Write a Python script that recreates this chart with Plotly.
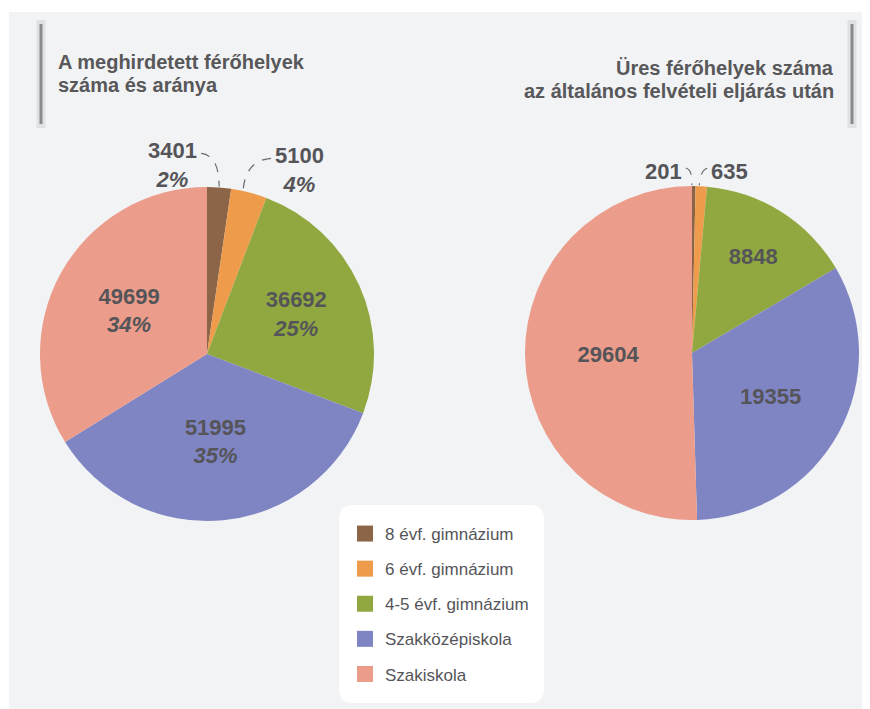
import math
import plotly.graph_objects as go

# data
categories = ["8 évf. gimnázium", "6 évf. gimnázium", "4-5 évf. gimnázium",
              "Szakközépiskola", "Szakiskola"]
colors = ["#8c6548", "#ee9c4b", "#90a83f", "#7f84c3", "#eb9c8a"]
offered = [3401, 5100, 36692, 51995, 49699]
offered_pct = ["2%", "4%", "25%", "35%", "34%"]
empty = [201, 635, 8848, 19355, 29604]

# page has an 8px body margin, so work in screenshot pixels and shift
OFF = 8
W, H = 862, 701
R = 167
LEFT_C = (207, 354)
RIGHT_C = (692, 353)
TXT = "#555559"


def px(x, y):
    return (x - OFF) / W, 1 - (y - OFF) / H


def dom(c):
    x0, y0 = px(c[0] - R, c[1] + R)
    x1, y1 = px(c[0] + R, c[1] - R)
    return dict(x=[x0, x1], y=[y0, y1])


def edge(values, i, c):
    # point on the rim at the middle of slice i (screenshot pixels)
    tot = sum(values)
    frac = (sum(values[:i]) + values[i] / 2) / tot
    a = 2 * math.pi * frac
    return c[0] + R * math.sin(a), c[1] - R * math.cos(a)


left_text = [f"{v}<br><i>{p}</i>" for v, p in zip(offered, offered_pct)]
right_text = [f"{v}" for v in empty]
pos = ["none", "none", "inside", "inside", "inside"]
lab_font = dict(family="Liberation Sans", size=22, color=TXT, weight="bold")

fig = go.Figure()
fig.add_trace(go.Pie(labels=categories, values=offered, sort=False, direction="clockwise",
                     rotation=0, domain=dom(LEFT_C), marker=dict(colors=colors),
                     text=left_text, textinfo="text", textposition=pos,
                     insidetextorientation="horizontal", textfont=lab_font,
                     showlegend=False, hoverinfo="label+value"))
fig.add_trace(go.Pie(labels=categories, values=empty, sort=False, direction="clockwise",
                     rotation=0, domain=dom(RIGHT_C), marker=dict(colors=colors),
                     text=right_text, textinfo="text", textposition=pos,
                     insidetextorientation="horizontal", textfont=lab_font,
                     showlegend=False, hoverinfo="label+value"))

# legend entries
for i, (name, col) in enumerate(zip(categories, colors)):
    fig.add_trace(go.Scatter(x=[None], y=[None], mode="markers", name=name,
                             legendgroup=f"g{i}",
                             marker=dict(symbol="square", size=18, color=col)))


def path(points, cmd):
    return cmd.format(*[v for p in points for v in px(*p)])


# rounded white legend box
bx0, bx1, by0, by1, rr = 339, 544, 505, 703, 14
box = path([(bx0 + rr, by0), (bx1 - rr, by0), (bx1, by0), (bx1, by0 + rr),
            (bx1, by1 - rr), (bx1, by1), (bx1 - rr, by1), (bx0 + rr, by1),
            (bx0, by1), (bx0, by1 - rr), (bx0, by0 + rr), (bx0, by0), (bx0 + rr, by0)],
           "M {} {} L {} {} Q {} {} {} {} L {} {} Q {} {} {} {} L {} {} "
           "Q {} {} {} {} L {} {} Q {} {} {} {} Z")

shapes = [
    dict(type="rect", xref="paper", yref="paper", x0=px(9, 0)[0], x1=1, y0=0,
         y1=px(0, 12)[1], fillcolor="#f2f3f5", line_width=0, layer="below"),
    dict(type="path", xref="paper", yref="paper", path=box,
         fillcolor="white", line_width=0, layer="below"),
]
# title bars
for bx in (41, 852):
    shapes.append(dict(type="line", xref="paper", yref="paper",
                       x0=px(bx, 0)[0], x1=px(bx, 0)[0], y0=px(0, 20)[1], y1=px(0, 128)[1],
                       line=dict(color="rgba(0,0,0,0.07)", width=9)))
    shapes.append(dict(type="line", xref="paper", yref="paper",
                       x0=px(bx, 0)[0], x1=px(bx, 0)[0], y0=px(0, 24)[1], y1=px(0, 124)[1],
                       line=dict(color="#8a8a8a", width=3)))

title_font = dict(family="Liberation Sans", size=20, color="#58585a", weight="bold")
annotations = []
for txt, yy in [("A meghirdetett férőhelyek", 62), ("száma és aránya", 85)]:
    x, y = px(56, yy)
    annotations.append(dict(text=txt, xref="paper", yref="paper", x=x, y=y,
                            xanchor="left", yanchor="middle", showarrow=False,
                            font=title_font))
for txt, yy in [("Üres férőhelyek száma", 68), ("az általános felvételi eljárás után", 91)]:
    x, y = px(836, yy)
    annotations.append(dict(text=txt, xref="paper", yref="paper", x=x, y=y,
                            xanchor="right", yanchor="middle", showarrow=False,
                            font=title_font))

# small slices of the left pie
for i, (dx, anchor) in enumerate([(-20, "right"), (24, "left")]):
    ex, ey = edge(offered, i, LEFT_C)
    tx = ex + dx
    ax, ay = px(tx, ey - 22)
    annotations.append(dict(text=f"{offered[i]}<br><i>{offered_pct[i]}</i>",
                            xref="paper", yref="paper", x=ax, y=ay,
                            xanchor=anchor, yanchor="middle", align="center",
                            showarrow=False, font=lab_font))
    sx = tx + (2 if anchor == "right" else -2)
    sy = ey - 34
    ctl = (ex, sy + 2) if i == 0 else (ex - 4, sy + 2)
    end = (ex, ey - 1) if i == 0 else (ex - 6, ey - 1)
    shapes.append(dict(type="path", xref="paper", yref="paper",
                       path=path([(sx, sy), ctl, end], "M {} {} Q {} {} {} {}"),
                       line=dict(color="#6a6a6a", width=1.2, dash="dash")))
# small slices of the right pie
for i, (dx, anchor) in enumerate([(-10, "right"), (8, "left")]):
    ex, ey = edge(empty, i, RIGHT_C)
    tx = ex + dx
    ax, ay = px(tx, ey - 15)
    annotations.append(dict(text=f"{empty[i]}", xref="paper", yref="paper", x=ax, y=ay,
                            xanchor=anchor, yanchor="middle", showarrow=False,
                            font=lab_font))
    sx = tx + (2 if anchor == "right" else -2)
    sy = ey - 18
    shapes.append(dict(type="path", xref="paper", yref="paper",
                       path=path([(sx, sy), (ex - 1, sy + 2), (ex - 2, ey - 1)],
                                 "M {} {} Q {} {} {} {}"),
                       line=dict(color="#6a6a6a", width=1.2, dash="dash")))

lx, ly = px(345, 516)
fig.update_layout(
    width=W, height=H, margin=dict(l=0, r=0, t=0, b=0),
    paper_bgcolor="white", plot_bgcolor="rgba(0,0,0,0)",
    xaxis=dict(visible=False), yaxis=dict(visible=False),
    shapes=shapes, annotations=annotations,
    legend=dict(x=lx, y=ly, xanchor="left", yanchor="top",
                bgcolor="rgba(0,0,0,0)", tracegroupgap=10,
                font=dict(family="Liberation Sans", size=17, color="#555559")),
)

fig.write_html("out.html")
